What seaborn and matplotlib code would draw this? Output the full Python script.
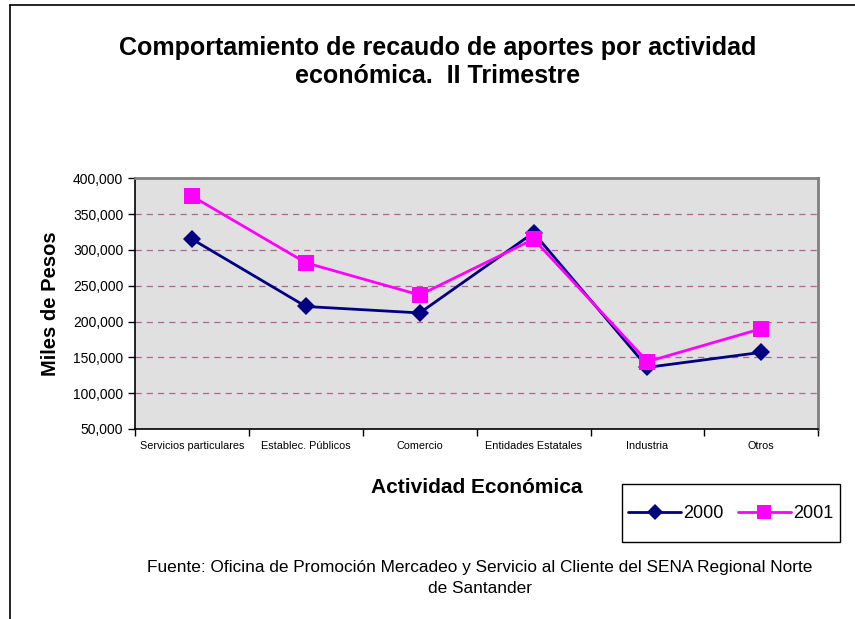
import pandas as pd
import matplotlib.pyplot as plt
import seaborn as sns
from matplotlib.lines import Line2D
from matplotlib.patches import Rectangle
from matplotlib.ticker import FuncFormatter, FixedLocator

actividades = ['Servicios particulares', 'Establec. Públicos', 'Comercio',
               'Entidades Estatales', 'Industria', 'Otros']
recaudo_2000 = [315000, 221000, 212000, 324000, 136000, 157000]
recaudo_2001 = [375000, 282000, 237000, 315000, 144000, 190000]
anios = ['2000', '2001']

df = pd.DataFrame({
    'pos': list(range(len(actividades))) * 2,
    'Actividad': actividades * 2,
    'valor': recaudo_2000 + recaudo_2001,
    'anio': [anios[0]] * len(actividades) + [anios[1]] * len(actividades),
})

sns.set_style('white')
plt.rcParams['font.family'] = ['Liberation Sans', 'DejaVu Sans']
plt.rcParams['text.color'] = 'black'
plt.rcParams['axes.labelcolor'] = 'black'
plt.rcParams['xtick.color'] = 'black'
plt.rcParams['ytick.color'] = 'black'

fig = plt.figure(figsize=(8.55, 6.19), dpi=100)
ax = fig.add_axes([0.158, 0.307, 0.799, 0.405])
ax.set_facecolor('#e0e0e0')

# grid lines (dashed, maroon)
for v in range(100000, 400000, 50000):
    ax.axhline(v, color='#9c4a78', lw=0.9, ls=(0, (5, 4)), alpha=0.8, zorder=1)

sns.lineplot(data=df, x='pos', y='valor', hue='anio', style='anio',
             palette={'2000': '#000080', '2001': '#ff00ff'},
             markers={'2000': 'D', '2001': 's'}, dashes=False,
             markersize=10, linewidth=2, markeredgewidth=0,
             ax=ax, zorder=3)
# squares a bit larger than diamonds
for ln in ax.get_lines():
    if ln.get_marker() == 's':
        ln.set_markersize(11)
    elif ln.get_marker() == 'D':
        ln.set_markersize(9)

ax.set_xlim(-0.5, len(actividades) - 0.5)
ax.set_ylim(50000, 400000)
ax.set_yticks(range(50000, 400001, 50000))
ax.yaxis.set_major_formatter(FuncFormatter(lambda v, p: f'{int(v):,}'))
ax.tick_params(axis='y', direction='out', length=5, width=1, labelsize=10,
               left=True, colors='black')

# category boundaries as tick marks, labels at the centres
ax.xaxis.set_major_locator(FixedLocator([i - 0.5 for i in range(len(actividades) + 1)]))
ax.xaxis.set_major_formatter(FuncFormatter(lambda v, p: ''))
ax.xaxis.set_minor_locator(FixedLocator(list(range(len(actividades)))))
ax.set_xticklabels(actividades, minor=True)
ax.tick_params(axis='x', which='major', direction='out', length=5, width=1, bottom=True)
ax.tick_params(axis='x', which='minor', length=0, labelsize=7.8, pad=9)

for s in ['left', 'bottom']:
    ax.spines[s].set_color('black')
    ax.spines[s].set_linewidth(1.2)
for s in ['top', 'right']:
    ax.spines[s].set_color('#808080')
    ax.spines[s].set_linewidth(2)

ax.set_xlabel('Actividad Económica', fontsize=15, fontweight='bold', labelpad=19)
ax.set_ylabel('Miles de Pesos', fontsize=14.5, fontweight='bold', labelpad=9)

# legend box drawn separately, entries inside it
ax.get_legend().remove()
fig.add_artist(Rectangle((622 / 855, 1 - 542 / 619), 218 / 855, 58 / 619,
                         transform=fig.transFigure, fill=False,
                         edgecolor='black', lw=1))
handles = [Line2D([], [], color='#000080', marker='D', markersize=8, lw=2, markeredgewidth=0),
           Line2D([], [], color='#ff00ff', marker='s', markersize=10, lw=2, markeredgewidth=0)]
fig.legend(handles, anios, loc='center', bbox_to_anchor=(731 / 855, 1 - 514 / 619),
           ncol=2, fontsize=13, frameon=False,
           handlelength=2.9, handletextpad=0.15, columnspacing=0.8,
           borderpad=0, borderaxespad=0)

fig.text(0.512, 0.900, 'Comportamiento de recaudo de aportes por actividad\neconómica.  II Trimestre',
         ha='center', va='center', fontsize=18, fontweight='bold', linespacing=1.22)

fig.text(0.561, 0.066, 'Fuente: Oficina de Promoción Mercadeo y Servicio al Cliente del SENA Regional Norte\nde Santander',
         ha='center', va='center', fontsize=12.4, linespacing=1.45)

# outer chart frame (left and top edges visible)
fig.add_artist(Line2D([10 / 855, 10 / 855], [0, 1 - 5 / 619], transform=fig.transFigure,
                      color='black', lw=1.2))
fig.add_artist(Line2D([10 / 855, 1], [1 - 5 / 619, 1 - 5 / 619], transform=fig.transFigure,
                      color='black', lw=1.2))

fig.savefig('out.png', dpi=100)
